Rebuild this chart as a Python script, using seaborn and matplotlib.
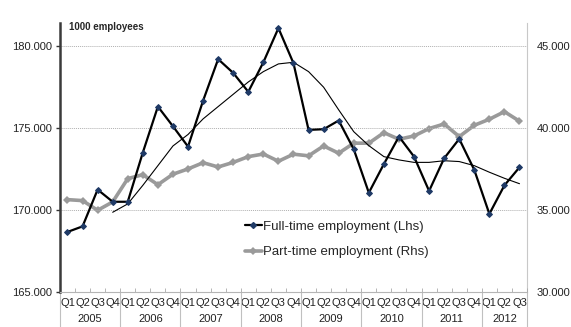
import numpy as np
import pandas as pd
import seaborn as sns
import matplotlib.pyplot as plt
from matplotlib.lines import Line2D
import matplotlib.transforms as mtransforms

# data
years = ['2005', '2006', '2007', '2008', '2009', '2010', '2011', '2012']
quarters = ['Q1', 'Q2', 'Q3', 'Q4'] * 7 + ['Q1', 'Q2', 'Q3']

full_time = [168.66, 169.0, 171.24, 170.5,
             170.5, 173.5, 176.3, 175.1,
             173.86, 176.66, 179.19, 178.35,
             177.2, 179.0, 181.08, 178.94,
             174.88, 174.92, 175.45, 173.7,
             171.05, 172.8, 174.47, 173.25,
             171.16, 173.15, 174.33, 172.44,
             169.76, 171.5, 172.6]

part_time = [35.63, 35.57, 34.98, 35.49,
             36.91, 37.15, 36.54, 37.18,
             37.5, 37.88, 37.62, 37.9,
             38.25, 38.41, 37.97, 38.4,
             38.3, 38.9, 38.46, 39.07,
             39.07, 39.71, 39.31, 39.51,
             39.96, 40.24, 39.47, 40.16,
             40.53, 40.99, 40.41]

# smoothed trend of full-time employment (starts Q4 2005)
trend = [np.nan, np.nan, np.nan, 169.86,
         170.37, 171.5, 172.7, 173.9,
         174.6, 175.55, 176.3, 177.05,
         177.8, 178.43, 178.9, 179.0,
         178.43, 177.48, 176.1, 174.77,
         173.92, 173.25, 173.05, 172.9,
         172.9, 173.0, 172.95, 172.7,
         172.3, 171.93, 171.6]

df = pd.DataFrame({'idx': range(len(quarters)), 'quarter': quarters,
                   'full': full_time, 'part': part_time, 'trend': trend})

sns.set_theme(style='white')
plt.rcParams['font.family'] = ['Liberation Sans', 'DejaVu Sans']

fig = plt.figure(figsize=(5.71, 3.27), dpi=100)
ax = fig.add_axes([0.105, 0.107, 0.818, 0.823])
ax2 = ax.twinx()

sns.lineplot(data=df, x='idx', y='part', ax=ax2, color='#9a9a9a', linewidth=2.6,
             marker='D', markersize=4.5, markeredgewidth=0, zorder=2)
sns.lineplot(data=df, x='idx', y='full', ax=ax, color='black', linewidth=1.6,
             marker='D', markersize=3, markerfacecolor='#1f3a66',
             markeredgecolor='#1f3a66', zorder=4)
sns.lineplot(data=df.dropna(), x='idx', y='trend', ax=ax, color='black',
             linewidth=0.8, zorder=3)

# put the left axis (full-time) above the twin
ax.set_zorder(ax2.get_zorder() + 1)
ax.patch.set_visible(False)

ax.set_xlim(-0.5, len(quarters) - 0.5)
ax.set_ylim(165, 181.4)
ax2.set_ylim(30, 46.4)

ax.set_yticks([165, 170, 175, 180])
ax.set_yticklabels(['165.000', '170.000', '175.000', '180.000'], fontsize=8, color='#222222')
ax2.set_yticks([30, 35, 40, 45])
ax2.set_yticklabels(['30.000', '35.000', '40.000', '45.000'], fontsize=8, color='#222222')
ax.tick_params(axis='y', direction='out', length=3, width=1, color='#333333', pad=3, left=True)
ax2.tick_params(axis='y', length=0, pad=7)

ax.set_xticks(range(len(quarters)))
ax.set_xticklabels(quarters, fontsize=8, color='#222222')
ax.tick_params(axis='x', length=0, pad=4)
ax.set_xticks(np.arange(-0.5, len(quarters), 1), minor=True)
ax.tick_params(axis='x', which='minor', direction='in', length=3, width=0.6,
               color='#aaaaaa', bottom=True)

ax.set_xlabel('')
ax.set_ylabel('')
ax2.set_ylabel('')

for y in [170, 175, 180]:
    ax.axhline(y, color='#b0b0b0', linewidth=0.7, linestyle=(0, (1, 1)), zorder=0)

for s in ['top']:
    ax.spines[s].set_visible(False)
    ax2.spines[s].set_visible(False)
ax.spines['left'].set_color('#3a3a3a')
ax.spines['left'].set_linewidth(1.8)
ax.spines['bottom'].set_color('#b5b5b5')
ax.spines['bottom'].set_linewidth(0.8)
ax.spines['right'].set_visible(False)
ax2.spines['left'].set_visible(False)
ax2.spines['bottom'].set_visible(False)
ax2.spines['right'].set_color('#c8c8c8')
ax2.spines['right'].set_linewidth(0.8)

# year groups under the quarter labels
trans = mtransforms.blended_transform_factory(ax.transData, ax.transAxes)
bounds = [-0.5] + [3.5 + 4 * k for k in range(7)] + [len(quarters) - 0.5]
for b in bounds:
    ax.add_line(Line2D([b, b], [0, -0.15], transform=trans, color='#c0c0c0',
                       linewidth=0.8, clip_on=False))
for yr, lo, hi in zip(years, bounds[:-1], bounds[1:]):
    ax.text((lo + hi) / 2, -0.1, yr, transform=trans, ha='center', va='center',
            fontsize=8, color='#222222', clip_on=False)

ax.text(0.02, 0.985, '1000 employees', transform=ax.transAxes, fontsize=7,
        fontweight='bold', ha='left', va='center')

handles = [Line2D([], [], color='black', linewidth=1.6, marker='D', markersize=3,
                  markerfacecolor='#1f3a66', markeredgecolor='#1f3a66'),
           Line2D([], [], color='#9a9a9a', linewidth=2.6, marker='D', markersize=4.5,
                  markeredgewidth=0)]
ax.legend(handles, ['Full-time employment (Lhs)', 'Part-time employment (Rhs)'],
          loc='upper left', bbox_to_anchor=(0.37, 0.31), frameon=False, fontsize=9.5,
          handlelength=1.3, handletextpad=0.1, labelspacing=1.0)

fig.savefig('out.png', dpi=100)
